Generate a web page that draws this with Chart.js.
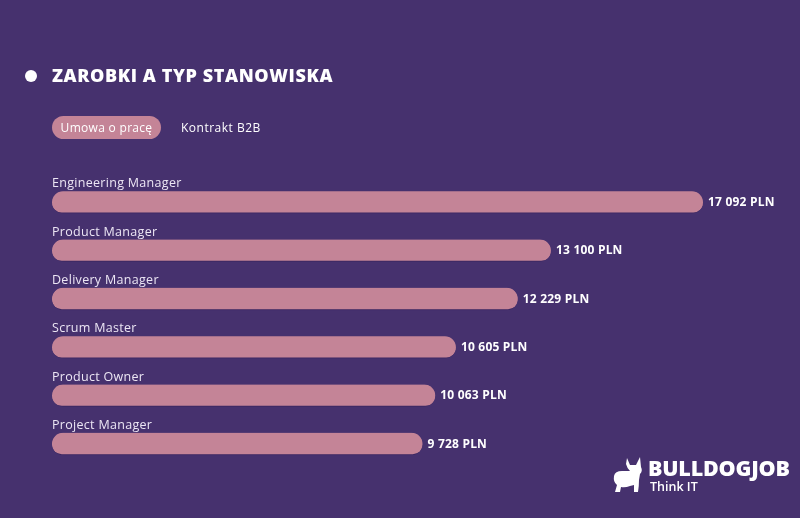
<!DOCTYPE html>
<html lang="pl">
<head>
<meta charset="utf-8">
<script src="https://cdn.jsdelivr.net/npm/chart.js@4.4.1/dist/chart.umd.min.js"></script>
<style>
  html, body { margin: 0; padding: 0; background: #46316e; width: 800px; height: 518px; overflow: hidden; font-family: "Open Sans", sans-serif; }
  #wrap { position: relative; width: 800px; height: 518px; }
  #c { position: absolute; left: 0; top: 0; }
  .dot { position: absolute; left: 25px; top: 70px; width: 12px; height: 12px; border-radius: 50%; background: #fff; }
  .title { position: absolute; left: 52px; top: 63px; color: #fff; font-family: "Open Sans", sans-serif; font-weight: 800; font-size: 18px; letter-spacing: 0.6px; white-space: nowrap; }
  .pill { position: absolute; left: 52px; top: 116px; width: 109px; height: 23px; border-radius: 12px; background: #c48497; color: #fff; font-size: 12px; letter-spacing: 0.3px; line-height: 23px; text-align: center; }
  .tab2 { position: absolute; left: 181px; top: 116px; height: 23px; line-height: 23px; color: #fff; font-size: 12px; letter-spacing: 0.5px; }
  .logo1 { position: absolute; left: 648px; top: 453px; color: #fff; font-family: "Open Sans", sans-serif; font-weight: 800; font-size: 21.5px; letter-spacing: -0.2px; }
  .logo2 { position: absolute; left: 650px; top: 478px; color: #fff; font-weight: 600; font-size: 12.5px; }
  #dog { position: absolute; left: 610px; top: 456px; }
</style>
</head>
<body>
<div id="wrap">
  <canvas id="c" width="800" height="518"></canvas>
  <div class="dot"></div>
  <div class="title">ZAROBKI A TYP STANOWISKA</div>
  <div class="pill">Umowa o pracę</div>
  <div class="tab2">Kontrakt B2B</div>
  <svg id="dog" width="38" height="38" viewBox="0 0 36 38">
    <path fill="#fff" d="M16 2 L19 9 L25 9 L29 1 L30 11 Q32 15 29 18 L28 24 Q28 30 27 36 L23 36 L23 29 L19 30 Q14 32 10 31 L9 36 L4 36 L6 29 Q2 26 3 20 Q4 15 11 15 L19 15 Q16 12 15 8 Z"/>
  </svg>
  <div class="logo1">BULLDOGJOB</div>
  <div class="logo2">Think IT</div>
</div>
<script>
const categories = ["Engineering Manager", "Product Manager", "Delivery Manager", "Scrum Master", "Product Owner", "Project Manager"];
const salaries = [17092, 13100, 12229, 10605, 10063, 9728];
const valueLabels = ["17 092 PLN", "13 100 PLN", "12 229 PLN", "10 605 PLN", "10 063 PLN", "9 728 PLN"];
const seriesName = "Umowa o pracę";

const labelPlugin = {
  id: "labelPlugin",
  afterDatasetsDraw(chart) {
    const ctx = chart.ctx;
    const meta = chart.getDatasetMeta(0);
    ctx.save();
    meta.data.forEach((bar, i) => {
      ctx.textBaseline = "alphabetic";
      ctx.textAlign = "left";
      ctx.fillStyle = "#ece6f4";
      ctx.font = "12.5px 'Open Sans', sans-serif";
      ctx.letterSpacing = "0.3px";
      ctx.fillText(categories[i], chart.chartArea.left, bar.y - 15);
      ctx.fillStyle = "#ffffff";
      ctx.font = "bold 12px 'Open Sans', sans-serif";
      ctx.letterSpacing = "0.2px";
      ctx.textBaseline = "middle";
      ctx.fillText(valueLabels[i], bar.x + 5, bar.y + 0.5);
    });
    ctx.restore();
  }
};

new Chart(document.getElementById("c"), {
  type: "bar",
  data: {
    labels: categories,
    datasets: [{
      label: seriesName,
      data: salaries,
      backgroundColor: "#c48497",
      borderColor: "#3a2660",
      borderWidth: { bottom: 1 },
      borderSkipped: false,
      borderRadius: 11,
      barThickness: 22
    }]
  },
  options: {
    indexAxis: "y",
    responsive: false,
    animation: false,
    events: [],
    layout: { padding: { left: 52, right: 62.4, top: 178, bottom: 50 } },
    plugins: { legend: { display: false }, tooltip: { enabled: false } },
    scales: {
      x: { display: false, min: 0, max: 18000 },
      y: { display: false }
    }
  },
  plugins: [labelPlugin]
});
</script>
</body>
</html>
